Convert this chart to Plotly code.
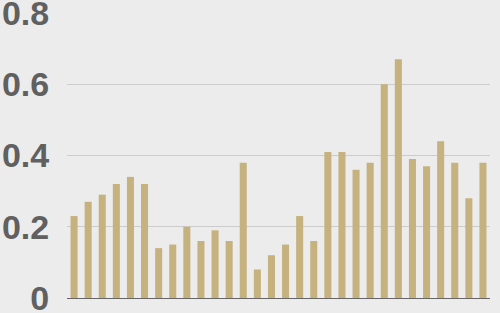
import plotly.graph_objects as go

categories = [f"c{i}" for i in range(1, 31)]
values = [0.23, 0.27, 0.29, 0.32, 0.34, 0.32, 0.14, 0.15, 0.20, 0.16,
          0.19, 0.16, 0.38, 0.08, 0.12, 0.15, 0.23, 0.16, 0.41, 0.41,
          0.36, 0.38, 0.60, 0.67, 0.39, 0.37, 0.44, 0.38, 0.28, 0.38]
tick_vals = [0, 0.2, 0.4, 0.6, 0.8]
tick_text = ["0", "0.2", "0.4", "0.6", "0.8"]

fig = go.Figure(go.Bar(x=categories, y=values, marker=dict(color="#c6b27e", line=dict(width=0))))
fig.update_layout(
    width=500, height=313,
    margin=dict(l=67, r=10, t=13, b=15),
    paper_bgcolor="#ececec", plot_bgcolor="#ececec",
    bargap=0.5, showlegend=False,
    font=dict(family="Liberation Sans, Arial, sans-serif"),
)
fig.update_xaxes(showticklabels=False, showgrid=False, zeroline=False,
                 showline=True, linecolor="#666666", linewidth=1, ticks="",
                 automargin=False)
fig.update_yaxes(range=[0, 0.8], tickvals=tick_vals, ticktext=tick_text,
                 showgrid=True, gridcolor="#cccccc", gridwidth=1, zeroline=False,
                 tickfont=dict(size=34, color="#606060", weight="bold"),
                 ticks="outside", ticklen=10, tickcolor="rgba(0,0,0,0)",
                 automargin=False, ticklabeloverflow="allow")
fig.write_html("out.html")
